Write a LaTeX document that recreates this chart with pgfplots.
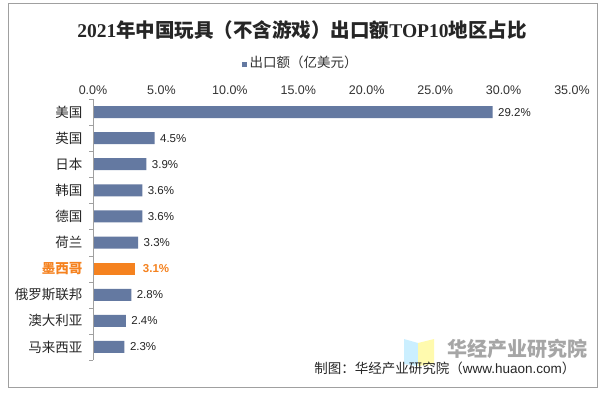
\documentclass[border=0pt]{standalone}
\usepackage{fontspec}
\usepackage{pgfplots}
\pgfplotsset{compat=1.18}
\setmainfont{Liberation Sans}
\newfontfamily\cjk{Noto Sans CJK SC}
\newfontfamily\serif{Liberation Serif}
\definecolor{barblue}{HTML}{6479A1}
\definecolor{barorange}{HTML}{F5821F}
\definecolor{framegray}{HTML}{A0A0A0}
\definecolor{txt}{HTML}{262626}
\begin{document}
\begin{tikzpicture}[x=1pt,y=1pt]
\useasboundingbox[fill=white] (0,0) rectangle (604,394);
\draw[framegray, line width=0.8pt] (8,7) rectangle (597,391);
\node[font=\bfseries\fontsize{19.5}{20}\selectfont, text=txt] at (302,364) {{\serif 2021}{\cjk 年中国玩具（不含游戏）出口额}{\serif TOP10}{\cjk 地区占比}};
\node[font=\cjk\fontsize{13.5}{14}\selectfont, text=black!80] at (300,332) {{\color{barblue}\rule{5pt}{5pt}}\,出口额（亿美元）};
% watermark
\fill[blue!30!cyan!25, opacity=0.8] (404,55)--(418,51)--(418,28)--(404,30)--cycle;
\fill[yellow!35, opacity=0.9] (418,51)--(434,55)--(434,30)--(418,28)--cycle;
\node[font=\cjk\bfseries\fontsize{20}{20}\selectfont, text=black!35, anchor=west] at (444,45) {华经产业研究院};
\node[font=\fontsize{13.5}{14}\selectfont, anchor=east, text=txt] at (579,26) {{\cjk 制图：华经产业研究院（}www.huaon.com{\cjk ）}};
\begin{axis}[
  at={(93pt,34pt)}, anchor=south west, scale only axis,
  width=479pt, height=261pt,
  xmin=0, xmax=35, ymin=-0.5, ymax=9.5,
  xbar, bar width=12pt,
  axis line style={draw=none},
  xtick={0,5,10,15,20,25,30,35},
  xticklabels={0.0\%,5.0\%,10.0\%,15.0\%,20.0\%,25.0\%,30.0\%,35.0\%},
  xticklabel pos=upper,
  xtick style={draw=none},
  xticklabel style={font=\fontsize{12.5}{13}\selectfont, text=black!80, yshift=1pt},
  ytick={0,...,9},
  yticklabels={马来西亚,澳大利亚,俄罗斯联邦,{\textcolor{barorange}{\bfseries 墨西哥}},荷兰,德国,韩国,日本,英国,美国},
  ytick pos=left,
  major tick length=0pt,
  minor ytick={-0.5,0.5,...,9.5},
  minor tick length=4pt,
  tick align=outside,
  minor y tick style={draw=framegray},
  yticklabel style={font=\cjk\fontsize{13.5}{14}\selectfont, text=txt, xshift=-7pt},
  /pgf/number format/assume math mode=true,
  nodes near coords={\pgfmathprintnumber[fixed,fixed zerofill,precision=1]{\pgfplotspointmeta}\%},
  nodes near coords style={font=\fontsize{11.5}{12}\selectfont, text=txt, xshift=2pt},
  clip=false,
]
\addplot[fill=barblue, draw=none, bar shift=0pt] coordinates {
(29.2,9) (4.5,8) (3.9,7) (3.6,6) (3.6,5) (3.3,4) (2.8,2) (2.4,1) (2.3,0)};
\addplot[fill=barorange, draw=none, bar shift=0pt,
  nodes near coords style={font=\bfseries\fontsize{11.5}{12}\selectfont, text=barorange, xshift=2pt}] coordinates {(3.1,3)};
\draw[framegray] (axis cs:0,-0.5) -- (axis cs:0,9.5);
\end{axis}
\end{tikzpicture}
\end{document}
